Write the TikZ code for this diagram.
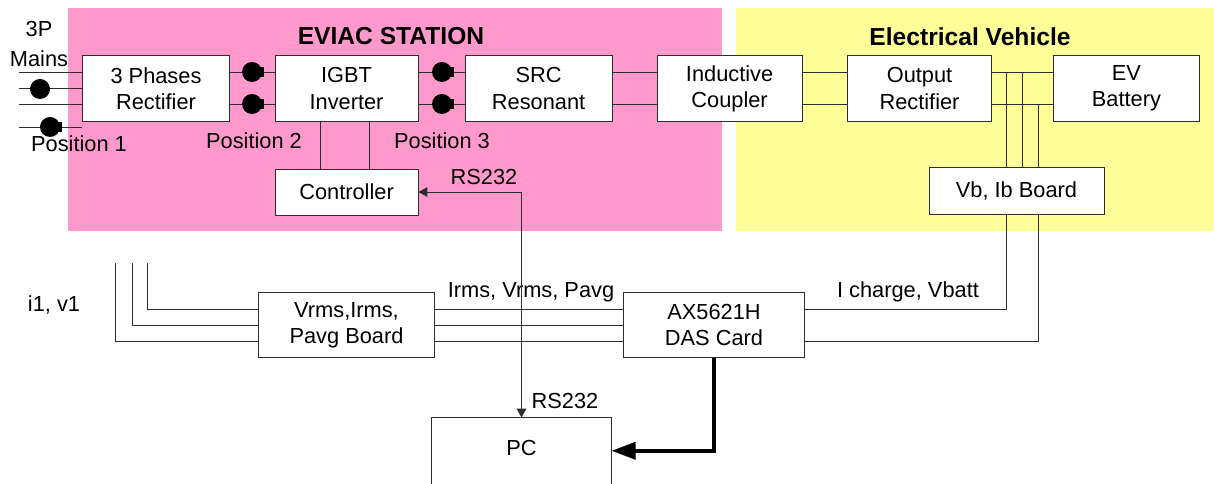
\documentclass[tikz,border=0pt]{standalone}
\usepackage{fontspec}
\setmainfont{Liberation Sans}
\usepackage{xcolor}
\usepackage{tikz}
\usetikzlibrary{arrows.meta,positioning}
\definecolor{stationpink}{RGB}{255,153,204}
\definecolor{vehicleyellow}{RGB}{255,255,153}
\definecolor{wiregray}{RGB}{45,45,45}

\begin{document}
\begin{tikzpicture}[x=0.025cm, y=-0.025cm, >=Triangle,
    font=\fontsize{15.5}{18.5}\selectfont,
    blk/.style={draw=wiregray, fill=white, line width=0.7pt, align=center, inner sep=0pt, minimum height=1.625cm},
    wire/.style={draw=wiregray, line width=0.7pt},
    plug/.style={circle, fill=black, inner sep=0pt, minimum size=0.5cm},
    lbl/.style={inner sep=0pt, align=center}]
\useasboundingbox (0,0) rectangle (1214,484);

        % zones
        \fill[stationpink] (68,8) rectangle (722,231);
        \fill[vehicleyellow] (736,8) rectangle (1214,231);
        \node (tsta) [lbl, font=\fontsize{17.5}{20}\selectfont\bfseries] at (391,36) {EVIAC STATION};
        \node (tveh) [lbl, font=\fontsize{17.5}{20}\selectfont\bfseries] at (970,37) {Electrical Vehicle};

        % power chain
        \node (rect) [blk, minimum width=3.65cm] at (156,88.5) {3 Phases\\Rectifier};
        \node (igbt) [blk, minimum width=3.575cm, right=1.125cm of rect] {IGBT\\Inverter};
        \node (src) [blk, minimum width=3.675cm, right=1.15cm of igbt] {SRC\\Resonant};
        \node (coup) [blk, minimum width=3.625cm, right=1.1cm of src] {Inductive\\Coupler};
        \node (orect) [blk, minimum width=3.6cm, right=1.11cm of coup] {Output\\Rectifier};
        \node (batt) [blk, minimum width=3.65cm, right=1.52cm of orect] {EV\\Battery};
        \node (ctrl) [blk, minimum width=3.575cm, minimum height=1.15cm, below=1.175cm of igbt] {Controller};
        \node (vbib) [blk, minimum width=4.375cm, minimum height=1.15cm] at (1016.5,191) {Vb, Ib Board};

        % measurement side
        \node (vrms) [blk, minimum width=4.375cm, minimum height=1.6cm] at (346.5,325) {Vrms,Irms,\\Pavg Board};
        \node (das) [blk, minimum width=4.5cm, minimum height=1.6cm] at (714,325) {AX5621H\\DAS Card};
        \node (pc) [blk, minimum width=4.475cm, minimum height=1.8cm, text depth=0.3cm] at (521.5,454) {PC};

        % mains
        \coordinate (m1) at (19,72.5);
        \coordinate (m2) at (19,88.5);
        \coordinate (m3) at (19,104.5);
        \coordinate (m4) at (19,127);
        \draw[wire] (m1) -- (m1 -| rect.west);
        \draw[wire] (m2) -- (m2 -| rect.west);
        \draw[wire] (m3) -- (m3 -| rect.west);
        \draw[wire] (m4) -- (m4 -| rect.west);
        \node (mains) [lbl, font=\fontsize{15.5}{22}\selectfont] at (39,44) {3P\\Mains};

        % dc and ac links
        \foreach \a/\b in {rect/igbt, igbt/src, src/coup, coup/orect, orect/batt} {
          \draw[wire] ([yshift=0.4cm]\a.east) -- ([yshift=0.4cm]\b.west);
          \draw[wire] ([yshift=-0.4cm]\a.east) -- ([yshift=-0.4cm]\b.west);
        }
        \draw[wire] ([xshift=-0.64cm]igbt.south) -- ([xshift=-0.64cm]ctrl.north);
        \draw[wire] ([xshift=0.57cm]igbt.south) -- ([xshift=0.57cm]ctrl.north);

        % test positions
        \node (p1a) [plug] at (40,89) {};
        \node (p1b) [plug] at (50,127) {};
        \node (p2a) [plug] at (252,72) {};
        \node (p2b) [plug] at (252,104) {};
        \node (p3a) [plug] at (442,72) {};
        \node (p3b) [plug] at (442,104) {};
        \foreach \p in {p1b, p2a, p2b, p3a, p3b}
          \fill ([xshift=0.17cm,yshift=-0.13cm]\p.center) rectangle ++(0.14cm,0.26cm);
        \node (pos1) [lbl] at (79,144) {Position 1};
        \node (pos2) [lbl] at (254,141) {Position 2};
        \node (pos3) [lbl] at (442,141) {Position 3};

        % battery taps
        \coordinate (ebus1) at ([yshift=0.4cm]orect.east);
        \coordinate (ebus2) at ([yshift=-0.4cm]orect.east);
        \coordinate (tap1) at ([xshift=-0.24cm]vbib.north);
        \coordinate (tap2) at ([xshift=0.14cm]vbib.north);
        \coordinate (tap3) at ([xshift=0.54cm]vbib.north);
        \draw[wire] (tap1) -- (tap1 |- ebus1);
        \draw[wire] (tap2) -- (tap2 |- ebus1);
        \draw[wire] (tap3) -- (tap3 |- ebus2);
        \draw[wire] ([xshift=-0.24cm]vbib.south) |- ([yshift=0.4cm]das.east);
        \draw[wire] ([xshift=0.54cm]vbib.south) |- ([yshift=-0.4cm]das.east);
        \node (ichg) [lbl] at (908,292) {I charge, Vbatt};

        % mains sensing
        \coordinate (s1) at (147,263);
        \coordinate (s2) at (132,263);
        \coordinate (s3) at (115,263);
        \draw[wire] (s1) |- ([yshift=0.4cm]vrms.west);
        \draw[wire] (s2) |- (vrms.west);
        \draw[wire] (s3) |- ([yshift=-0.4cm]vrms.west);
        \node (iv) [lbl] at (54,305) {i1, v1};

        \draw[wire] ([yshift=0.4cm]vrms.east) -- ([yshift=0.4cm]das.west);
        \draw[wire] (vrms.east) -- (das.west);
        \draw[wire] ([yshift=-0.4cm]vrms.east) -- ([yshift=-0.4cm]das.west);
        \node (meas) [lbl] at (531,292) {Irms, Vrms, Pavg};

        % links to pc
        \draw[wire, {Triangle[length=0.22cm,width=0.24cm]}-{Triangle[length=0.22cm,width=0.24cm]}] (ctrl.east) -| (pc.north);
        \node (rsa) [lbl] at (484,177) {RS232};
        \node (rsb) [lbl] at (565,401) {RS232};
        \draw[line width=2.8pt, -{Triangle[length=0.6cm,width=0.42cm]}] (das.south) |- ([yshift=0.08cm]pc.east);
\end{tikzpicture}
\end{document}
